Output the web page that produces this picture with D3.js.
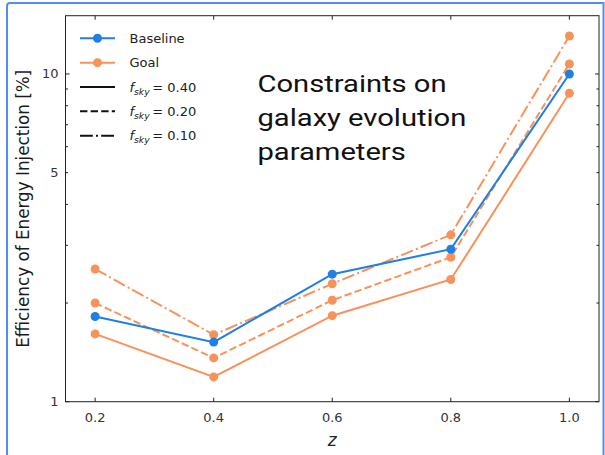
<!DOCTYPE html>
<html>
<head>
<meta charset="utf-8">
<script src="https://cdn.jsdelivr.net/npm/d3@7"></script>
<style>
  html, body { margin: 0; padding: 0; background: #fff; }
  svg { display: block; }
</style>
</head>
<body>
<svg id="chart" width="605" height="455"></svg>
<script>
// Redshift bins
const redshifts = [0.2, 0.4, 0.6, 0.8, 1.0];
// Efficiency of energy injection [%]
const baselineSky40 = [1.82, 1.52, 2.45, 2.92, 10.0];
const goalSky40 = [1.61, 1.19, 1.83, 2.36, 8.73];
const goalSky20 = [2.00, 1.36, 2.04, 2.76, 10.73];
const goalSky10 = [2.54, 1.60, 2.29, 3.23, 13.06];

const xTicks = [0.2, 0.4, 0.6, 0.8, 1.0];
const yLabelTicks = [1, 5, 10];
const yMinorTicks = [2, 3, 4, 5, 6, 7, 8, 9];
const annotationLines = ["Constraints on", "galaxy evolution", "parameters"];

const svg = d3.select("#chart");
const W = 605, H = 455;
const plot = { left: 65.5, right: 599, top: 15.7, bottom: 401.7 };

const BLUE = "#1f7fe4";
const ORANGE = "#f7935a";
const FONT = "'DejaVu Sans', sans-serif";

// Blue frame around the figure
svg.append("path")
  .attr("d", `M7,${H + 2} L7,6 Q7,3 10,3 L603.5,3 L603.5,${H + 2}`)
  .attr("fill", "none")
  .attr("stroke", "#4f8ff0")
  .attr("stroke-width", 2);

const x = d3.scaleLinear().domain([0.15, 1.05]).range([plot.left, plot.right]);
const y = d3.scaleLog().domain([1, 15.06]).range([plot.bottom, plot.top]);

// Spines
svg.append("rect")
  .attr("x", plot.left).attr("y", plot.top)
  .attr("width", plot.right - plot.left).attr("height", plot.bottom - plot.top)
  .attr("fill", "none").attr("stroke", "#222").attr("stroke-width", 1);

// Inward ticks on all four sides
const tickG = svg.append("g").attr("stroke", "#222").attr("stroke-width", 1);
xTicks.forEach(t => {
  const px = x(t);
  tickG.append("line").attr("x1", px).attr("x2", px).attr("y1", plot.bottom).attr("y2", plot.bottom - 4);
  tickG.append("line").attr("x1", px).attr("x2", px).attr("y1", plot.top).attr("y2", plot.top + 4);
});
[1, 10].forEach(t => {
  const py = y(t);
  tickG.append("line").attr("x1", plot.left).attr("x2", plot.left + 4).attr("y1", py).attr("y2", py);
  tickG.append("line").attr("x1", plot.right).attr("x2", plot.right - 4).attr("y1", py).attr("y2", py);
});
yMinorTicks.forEach(t => {
  const py = y(t);
  tickG.append("line").attr("x1", plot.left).attr("x2", plot.left + 2.5).attr("y1", py).attr("y2", py);
  tickG.append("line").attr("x1", plot.right).attr("x2", plot.right - 2.5).attr("y1", py).attr("y2", py);
});

// Tick labels
const labelG = svg.append("g").attr("font-family", FONT).attr("font-size", 13).attr("fill", "#333");
xTicks.forEach(t => {
  labelG.append("text").attr("x", x(t)).attr("y", plot.bottom + 20)
    .attr("text-anchor", "middle").text(d3.format(".1f")(t));
});
yLabelTicks.forEach(t => {
  labelG.append("text").attr("x", plot.left - 7).attr("y", y(t) + 4.5)
    .attr("text-anchor", "end").text(t);
});

// Axis titles
svg.append("text")
  .attr("transform", `translate(29,${(plot.top + plot.bottom) / 2}) rotate(-90)`)
  .attr("text-anchor", "middle")
  .attr("font-family", FONT).attr("font-size", 16.8).attr("fill", "#1a1a1a")
  .text("Efficiency of Energy Injection [%]");
svg.append("text")
  .attr("x", (plot.left + plot.right) / 2).attr("y", 446)
  .attr("text-anchor", "middle")
  .attr("font-family", FONT).attr("font-style", "italic").attr("font-size", 17).attr("fill", "#222")
  .text("z");

// Series
const line = d3.line().x(d => x(d[0])).y(d => y(d[1]));
const series = [
  { values: goalSky40, color: ORANGE, dash: null },
  { values: goalSky20, color: ORANGE, dash: "7.4,3.2" },
  { values: goalSky10, color: ORANGE, dash: "12.8,3.2,2,3.2" },
  { values: baselineSky40, color: BLUE, dash: null },
];
series.forEach(s => {
  const pts = redshifts.map((z, i) => [z, s.values[i]]);
  const g = svg.append("g");
  g.append("path").attr("d", line(pts))
    .attr("fill", "none").attr("stroke", s.color).attr("stroke-width", 2)
    .attr("stroke-dasharray", s.dash);
  g.selectAll("circle").data(pts).join("circle")
    .attr("cx", d => x(d[0])).attr("cy", d => y(d[1])).attr("r", 4.5)
    .attr("fill", s.color);
});

// Legend
const legend = svg.append("g").attr("font-family", FONT).attr("font-size", 13).attr("fill", "#222");
const legendItems = [
  { color: BLUE, dash: null, marker: true, label: "Baseline" },
  { color: ORANGE, dash: null, marker: true, label: "Goal" },
  { color: "#111", dash: null, marker: false, sky: "0.40" },
  { color: "#111", dash: "7.4,3.2", marker: false, sky: "0.20" },
  { color: "#111", dash: "12.8,3.2,2,3.2", marker: false, sky: "0.10" },
];
legendItems.forEach((item, i) => {
  const ly = 38.3 + i * 24.35;
  legend.append("line").attr("x1", 80).attr("x2", 115).attr("y1", ly).attr("y2", ly)
    .attr("stroke", item.color).attr("stroke-width", 2).attr("stroke-dasharray", item.dash);
  if (item.marker) {
    legend.append("circle").attr("cx", 97.5).attr("cy", ly).attr("r", 4.5).attr("fill", item.color);
  }
  const t = legend.append("text").attr("x", 129.5).attr("y", ly + 4.7);
  if (item.label) {
    t.text(item.label);
  } else {
    t.append("tspan").attr("font-style", "italic").text("f");
    t.append("tspan").attr("font-style", "italic").attr("font-size", 9.2).attr("dy", 3).text("sky");
    t.append("tspan").attr("dy", -3).text("\u2009= " + item.sky);
  }
});

// Annotation (set in a horizontally widened face)
const note = svg.append("text")
  .attr("transform", "translate(257.5,0) scale(1.19,1)")
  .attr("font-family", "Roboto, sans-serif").attr("font-size", 24.5).attr("fill", "#111");
annotationLines.forEach((s, i) => {
  note.append("tspan").attr("x", 0).attr("y", 91.8 + i * 34.3).text(s);
});
</script>
</body>
</html>
